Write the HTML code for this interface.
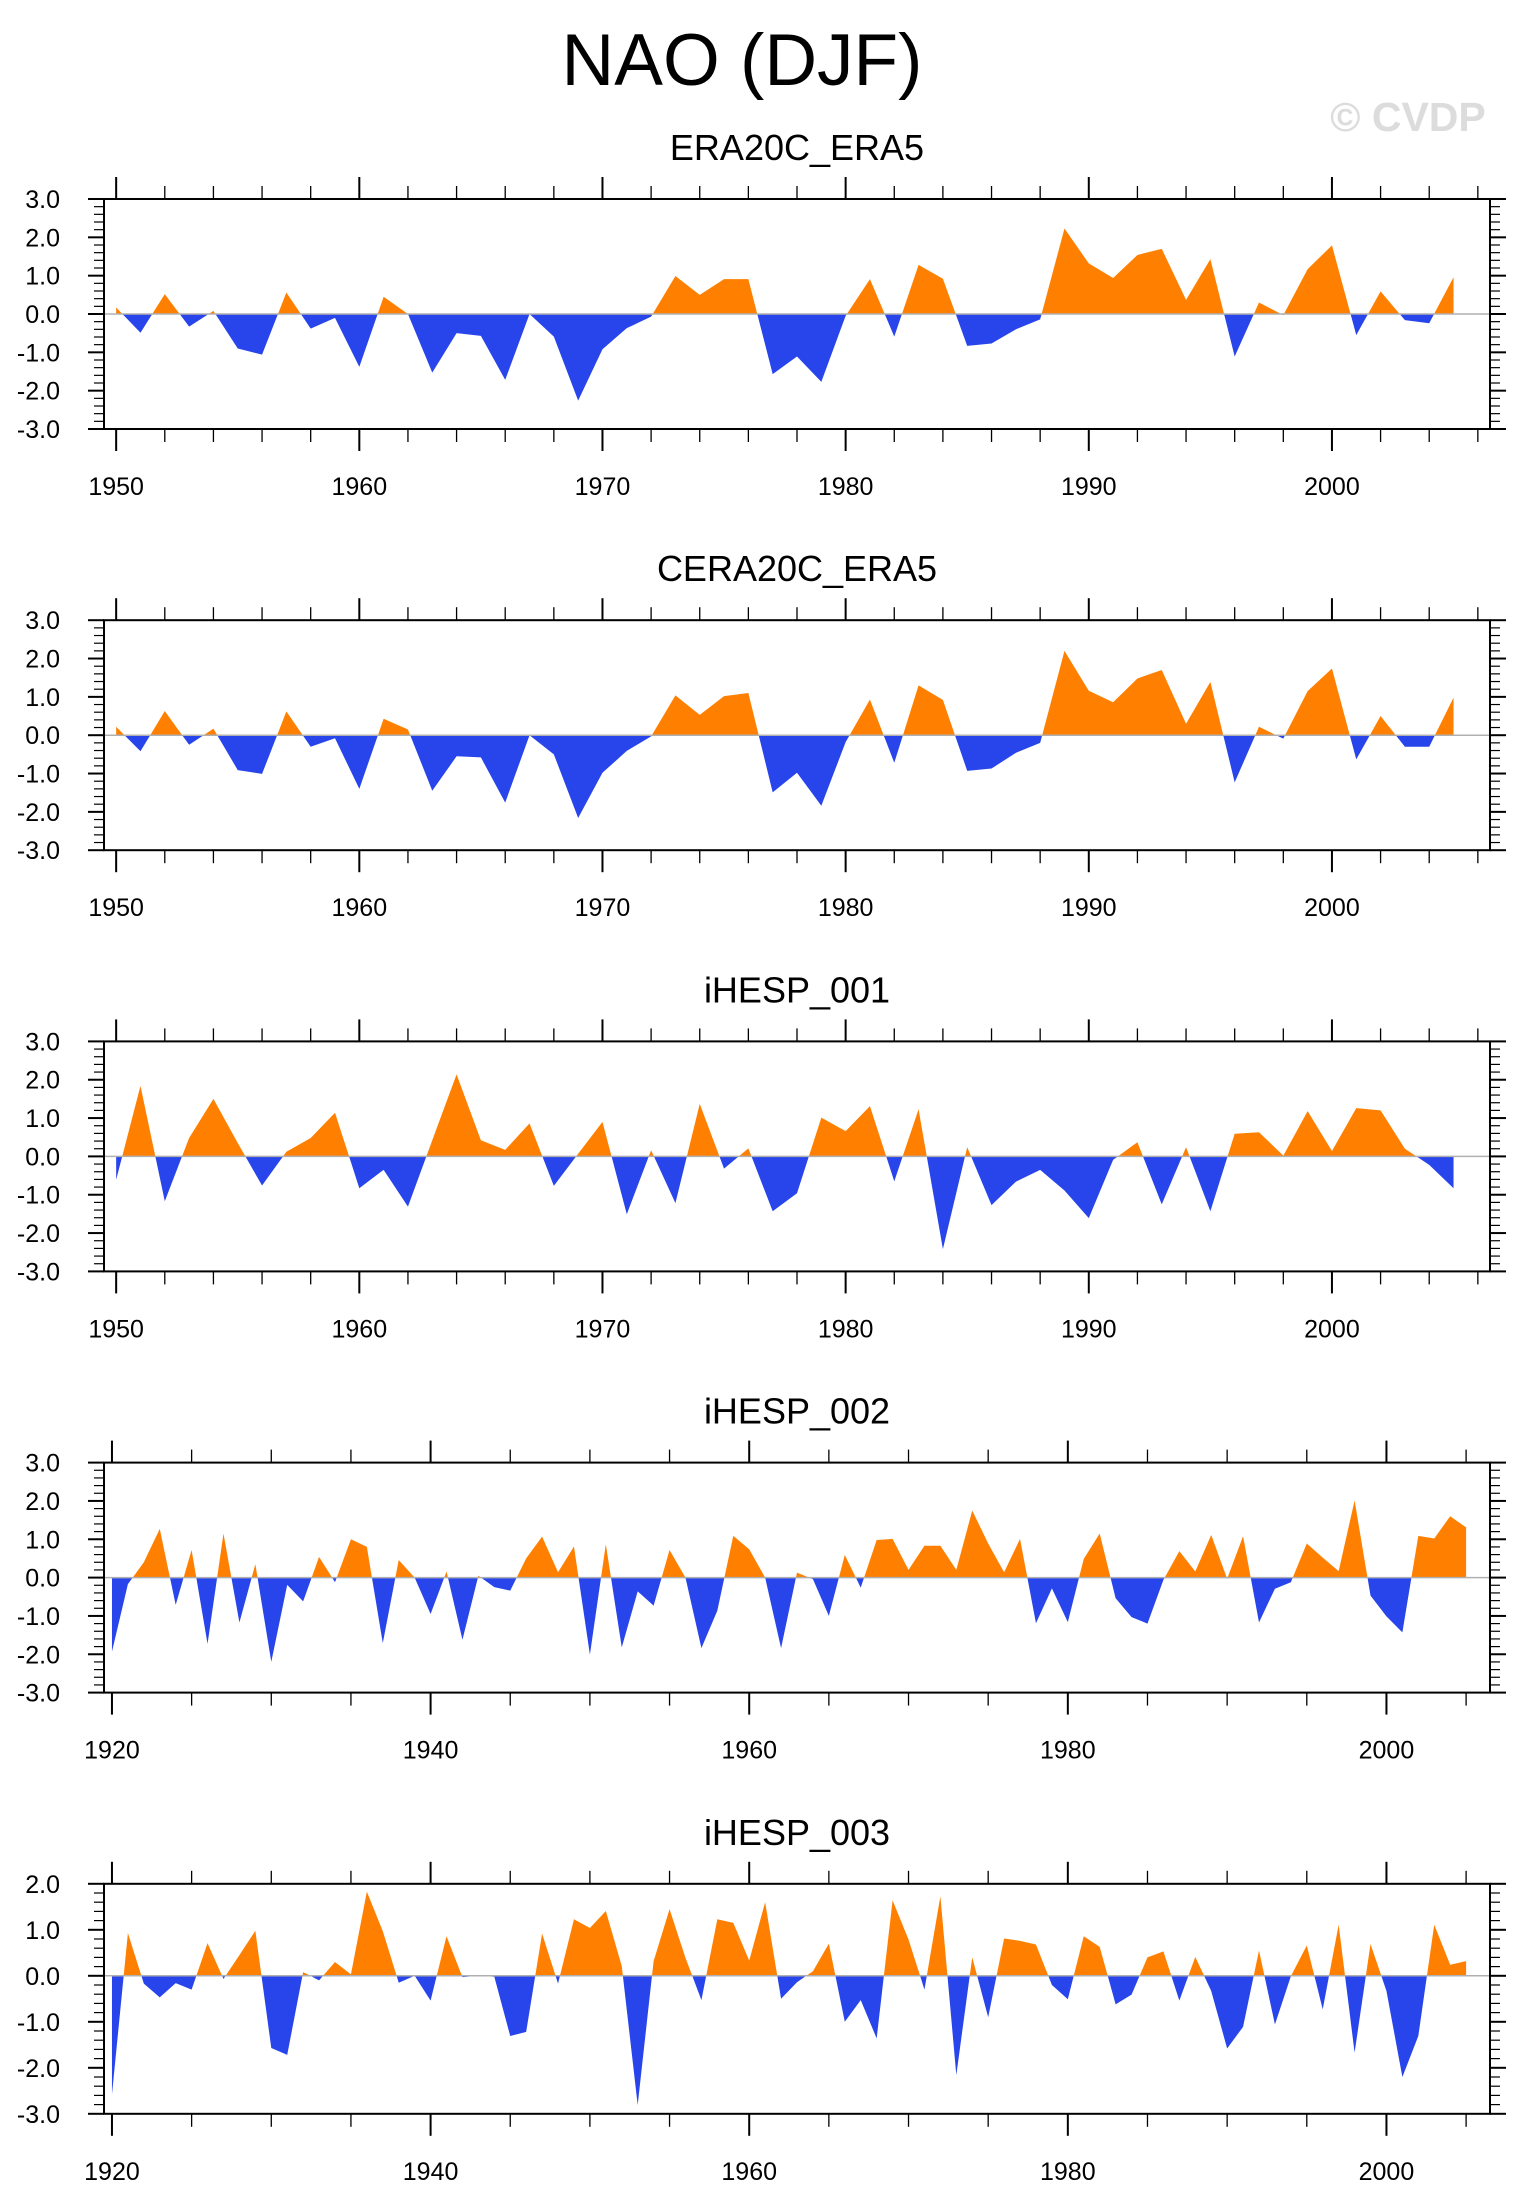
<!DOCTYPE html>
<html><head><meta charset="utf-8"><style>
html,body{margin:0;padding:0;background:#fff;}
svg{display:block;font-family:"Liberation Sans",Arial,sans-serif;}
</style></head><body>
<svg id="chart" width="1533" height="2211" viewBox="0 0 1533 2211" xmlns="http://www.w3.org/2000/svg">
<rect x="0" y="0" width="1533" height="2211" fill="#fff"/>
<text x="742" y="85" font-size="73" text-anchor="middle" fill="#000">NAO (DJF)</text>
<text x="1408" y="131" font-size="41" font-weight="bold" text-anchor="middle" fill="#dcdcdc">© CVDP</text>
</svg>
<script>
const titles = ["ERA20C_ERA5","CERA20C_ERA5","iHESP_001","iHESP_002","iHESP_003"];
const startYears = [1950,1950,1950,1920,1920];
const yMins = [-3,-3,-3,-3,-3];
const yMaxs = [3,3,3,3,2];
const yTickLabels = [["3.0","2.0","1.0","0.0","-1.0","-2.0","-3.0"],["3.0","2.0","1.0","0.0","-1.0","-2.0","-3.0"],["3.0","2.0","1.0","0.0","-1.0","-2.0","-3.0"],["3.0","2.0","1.0","0.0","-1.0","-2.0","-3.0"],["2.0","1.0","0.0","-1.0","-2.0","-3.0"]];
const era20c = [0.17,-0.49,0.52,-0.33,0.08,-0.9,-1.06,0.56,-0.38,-0.1,-1.38,0.45,0.0,-1.53,-0.5,-0.57,-1.72,0.0,-0.59,-2.26,-0.92,-0.37,-0.07,0.99,0.5,0.91,0.91,-1.57,-1.11,-1.77,-0.05,0.91,-0.59,1.28,0.92,-0.83,-0.77,-0.4,-0.14,2.23,1.32,0.94,1.54,1.7,0.37,1.43,-1.11,0.3,-0.03,1.17,1.79,-0.55,0.59,-0.16,-0.24,0.96];
const cera20c = [0.22,-0.42,0.63,-0.25,0.17,-0.91,-1.01,0.62,-0.3,-0.08,-1.4,0.43,0.15,-1.45,-0.55,-0.58,-1.76,0.0,-0.5,-2.16,-0.98,-0.41,-0.03,1.04,0.53,1.02,1.1,-1.49,-0.98,-1.84,-0.18,0.93,-0.72,1.3,0.92,-0.93,-0.87,-0.46,-0.2,2.2,1.16,0.86,1.48,1.7,0.3,1.39,-1.23,0.22,-0.09,1.15,1.74,-0.63,0.5,-0.3,-0.3,0.98];
const ihesp001 = [-0.61,1.84,-1.17,0.48,1.5,0.35,-0.76,0.12,0.48,1.14,-0.83,-0.35,-1.31,0.42,2.14,0.42,0.17,0.86,-0.77,0.07,0.9,-1.51,0.16,-1.22,1.37,-0.32,0.21,-1.43,-0.96,1.01,0.66,1.31,-0.65,1.23,-2.42,0.24,-1.27,-0.66,-0.35,-0.89,-1.61,-0.09,0.37,-1.25,0.24,-1.43,0.59,0.63,0.02,1.18,0.14,1.26,1.2,0.2,-0.22,-0.83];
const ihesp002 = [-1.93,-0.17,0.4,1.27,-0.71,0.72,-1.73,1.15,-1.17,0.35,-2.2,-0.19,-0.62,0.54,-0.12,1.0,0.8,-1.71,0.46,0.0,-0.95,0.16,-1.62,0.05,-0.25,-0.34,0.5,1.07,0.14,0.81,-2.01,0.87,-1.82,-0.36,-0.73,0.72,0.0,-1.84,-0.86,1.09,0.74,0.0,-1.84,0.13,-0.04,-1.0,0.59,-0.26,0.98,1.01,0.2,0.83,0.83,0.2,1.75,0.89,0.14,1.01,-1.19,-0.28,-1.16,0.49,1.15,-0.54,-1.03,-1.2,-0.06,0.69,0.16,1.11,-0.03,1.08,-1.17,-0.29,-0.12,0.89,0.52,0.17,2.01,-0.47,-1.01,-1.43,1.09,1.02,1.6,1.31];
const ihesp003 = [-2.58,0.93,-0.17,-0.47,-0.16,-0.3,0.71,-0.07,0.45,0.98,-1.57,-1.72,0.08,-0.1,0.3,0.03,1.83,0.97,-0.15,0.0,-0.54,0.86,-0.03,0.0,-0.02,-1.31,-1.22,0.92,-0.17,1.23,1.04,1.41,0.21,-2.81,0.32,1.45,0.39,-0.53,1.23,1.15,0.33,1.6,-0.5,-0.14,0.1,0.7,-1.0,-0.53,-1.36,1.64,0.79,-0.3,1.73,-2.16,0.4,-0.9,0.81,0.76,0.68,-0.2,-0.51,0.86,0.63,-0.62,-0.41,0.4,0.53,-0.54,0.41,-0.33,-1.58,-1.11,0.55,-1.06,-0.01,0.66,-0.73,1.11,-1.67,0.69,-0.33,-2.2,-1.31,1.11,0.24,0.32];
const seriesList = [era20c,cera20c,ihesp001,ihesp002,ihesp003];
const xLabelsA = [1950,1960,1970,1980,1990,2000];
const xLabelsB = [1920,1940,1960,1980,2000];

const NS="http://www.w3.org/2000/svg";
const svg=document.getElementById('chart');
const BOX_L=104, BOX_R=1490, BOX_H=230, PANEL_TOP0=199, PANEL_STEP=421.2;
function mk(tag,attrs,parent){const e=document.createElementNS(NS,tag);for(const k in attrs)e.setAttribute(k,attrs[k]);(parent||svg).appendChild(e);return e;}

for(let p=0;p<5;p++){
  const top=PANEL_TOP0+p*PANEL_STEP, bot=top+BOX_H;
  const s0=startYears[p], xMin=s0-0.5, xMax=2006.5;
  const yMin=yMins[p], yMax=yMaxs[p];
  const X=v=>BOX_L+(v-xMin)/(xMax-xMin)*(BOX_R-BOX_L);
  const Y=v=>bot-(v-yMin)/(yMax-yMin)*BOX_H;
  const g=mk('g',{});
  
  
  const t=mk('text',{x:(BOX_L+BOX_R)/2,y:top-39,'font-size':36,'text-anchor':'middle',fill:'#000'},g);
  t.textContent=titles[p];
  
  
  // fills
  const data=seriesList[p];
  const y0=Y(0);
  let posPts=[], negPts=[];
  const pos=[],neg=[];
  for(let i=0;i<data.length;i++){
    const yr=s0+i, v=data[i];
    if(i>0){const pv=data[i-1];
      if((pv>0&&v<0)||(pv<0&&v>0)){const f=pv/(pv-v);const xc=X(yr-1+f);pos.push([xc,y0]);neg.push([xc,y0]);}
    }
    pos.push([X(yr),Y(Math.max(v,0))]);
    neg.push([X(yr),Y(Math.min(v,0))]);
  }
  const xa=X(s0), xb=X(s0+data.length-1);
  const ptsStr=a=>[[xa,y0]].concat(a,[[xb,y0]]).map(q=>q[0].toFixed(2)+','+q[1].toFixed(2)).join(' ');
  const po=mk('polygon',{points:ptsStr(pos),fill:'#FF8000'},g);
  
  
  const ne=mk('polygon',{points:ptsStr(neg),fill:'#2845EC'},g);
  
  
  const zl=mk('line',{x1:BOX_L,x2:BOX_R,y1:y0,y2:y0,stroke:'#b0b0b0','stroke-width':1.5},g);
  
  
  // box
  const bx=mk('rect',{x:BOX_L,y:top,width:BOX_R-BOX_L,height:BOX_H,fill:'none',stroke:'#000','stroke-width':2},g);
  
  
  // x ticks
  const minorStep = s0===1950?2:5, majorStep = s0===1950?10:20;
  for(let yr=s0; yr<=2006; yr+=minorStep){
    const major=(yr-s0)%majorStep===0, L=major?22:13, x=X(yr);
    mk('line',{x1:x,x2:x,y1:top,y2:top-L,stroke:'#000','stroke-width':major?2:1.3},g);
    mk('line',{x1:x,x2:x,y1:bot,y2:bot+L,stroke:'#000','stroke-width':major?2:1.3},g);
  }
  const xl = s0===1950?xLabelsA:xLabelsB;
  xl.forEach(yr=>{
    const tx=mk('text',{x:X(yr),y:bot+66,'font-size':25,'text-anchor':'middle',fill:'#000'},g);
    tx.textContent=yr;
    
    
  });
  // y ticks
  for(let k=0;k<=Math.round((yMax-yMin)/0.2);k++){
    const v=yMin+k*0.2, yy=Y(v), major=k%5===0, L=major?16:10;
    mk('line',{x1:BOX_L,x2:BOX_L-L,y1:yy,y2:yy,stroke:'#000','stroke-width':major?2:1.2},g);
    mk('line',{x1:BOX_R,x2:BOX_R+L,y1:yy,y2:yy,stroke:'#000','stroke-width':major?2:1.2},g);
  }
  yTickLabels[p].forEach((lab,i)=>{
    const v=yMax-i;
    const ty=mk('text',{x:60,y:Y(v)+9,'font-size':25,'text-anchor':'end',fill:'#000'},g);
    ty.textContent=lab;
    
    
  });
}
</script>
</body></html>
